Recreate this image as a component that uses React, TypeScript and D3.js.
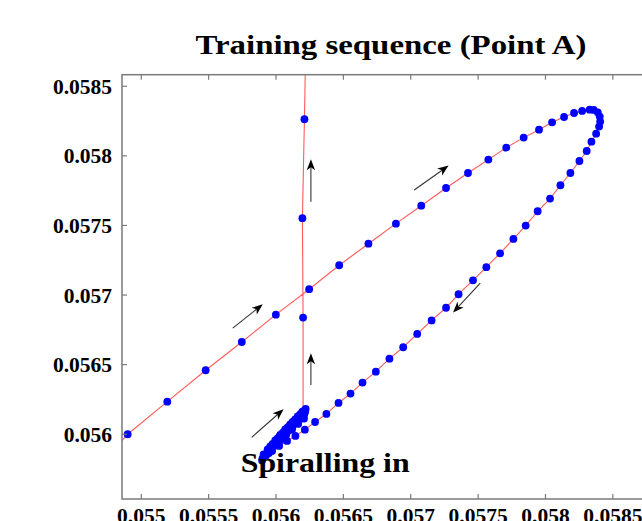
import React from "react";
import * as d3 from "d3";

// Trajectory (x, y) in data units
const trajX = [
  0.054604, 0.054899, 0.055193, 0.055478, 0.055746, 0.055999, 0.056246, 0.056469, 0.056686, 0.05689, 0.057078,
  0.057262, 0.057425, 0.057576, 0.057709, 0.057838, 0.057952, 0.058049, 0.058138, 0.058212, 0.058272, 0.058328,
  0.058358, 0.058388, 0.058403, 0.058406, 0.058398, 0.058376, 0.058341, 0.058306, 0.058252, 0.058185, 0.058111,
  0.058034, 0.057942, 0.057853, 0.057762, 0.057663, 0.057561, 0.057462, 0.057355, 0.057262, 0.057155, 0.057048,
  0.056944, 0.056842, 0.056741, 0.056642, 0.056553, 0.056464, 0.056374, 0.05629, 0.056214, 0.056144,
  // spiralling in
  0.056082, 0.056023, 0.055971, 0.055926, 0.0559, 0.055897, 0.055908, 0.055938, 0.055975, 0.056012, 0.056049,
  0.056086, 0.056123, 0.056161, 0.056194, 0.05622,
  0.056208, 0.056164, 0.056119, 0.056075, 0.05603, 0.055993, 0.055963, 0.055948,
  0.055957, 0.055994, 0.056031, 0.056068, 0.056105, 0.056142, 0.056179, 0.056209,
  0.056209, 0.056179, 0.056149, 0.05612, 0.05609, 0.05606, 0.056031, 0.056001, 0.055971, 0.055949, 0.055934,
  0.055956, 0.055986, 0.056016, 0.056045, 0.056075, 0.056105, 0.056134, 0.056164, 0.056194, 0.056216,
  0.056194, 0.056149, 0.056105, 0.05606, 0.056023, 0.056001,
  0.056023, 0.05606, 0.056097, 0.056134, 0.056172, 0.056209,
  0.056186, 0.056142, 0.056105, 0.056075, 0.056105, 0.056142, 0.056179, 0.056209,
  0.056179, 0.056149, 0.056172, 0.056201, 0.056201,
  // vertical climb
  0.056201, 0.056196, 0.056211, 0.056224,
];
const trajY = [
  0.055686, 0.056, 0.056234, 0.05646, 0.056663, 0.056859, 0.057042, 0.057214, 0.057369, 0.057513, 0.057642,
  0.057769, 0.057877, 0.057973, 0.058059, 0.058131, 0.058188, 0.058241, 0.058279, 0.058308, 0.058323, 0.058332,
  0.05833, 0.058313, 0.058282, 0.058246, 0.05821, 0.058159, 0.058102, 0.058035, 0.057963, 0.057877, 0.057789,
  0.057693, 0.057602, 0.057499, 0.057403, 0.0573, 0.0572, 0.057106, 0.057006, 0.056909, 0.056818, 0.056721,
  0.056625, 0.056543, 0.05645, 0.056371, 0.056292, 0.056225, 0.056146, 0.056088, 0.056033, 0.055988,
  // spiralling in
  0.055952, 0.055916, 0.05588, 0.055848, 0.055826, 0.055812, 0.055855, 0.055891, 0.05593, 0.05597, 0.056009,
  0.056049, 0.056088, 0.056128, 0.05616, 0.056182,
  0.056113, 0.056074, 0.056034, 0.055995, 0.055955, 0.055919, 0.055887, 0.055865,
  0.055913, 0.055956, 0.055995, 0.056035, 0.056071, 0.056107, 0.056142, 0.056168,
  0.056142, 0.05611, 0.056081, 0.056052, 0.056024, 0.055995, 0.055966, 0.055938, 0.055909, 0.055884, 0.055866,
  0.055894, 0.055927, 0.055959, 0.055988, 0.056017, 0.056045, 0.056078, 0.05611, 0.056139, 0.05616,
  0.056131, 0.056092, 0.056052, 0.056013, 0.055977, 0.055952,
  0.055981, 0.056017, 0.056052, 0.056088, 0.056124, 0.056153,
  0.056131, 0.056092, 0.05606, 0.056031, 0.056063, 0.056099, 0.056131, 0.056157,
  0.056128, 0.056103, 0.056128, 0.056153, 0.056164,
  // vertical climb
  0.056838, 0.057552, 0.058263, 0.058976,
];

// Direction arrows: [x1, y1, x2, y2] in data units
const arrowX1 = [0.055679, 0.05582, 0.057026, 0.057516, 0.056259, 0.056259];
const arrowY1 = [0.056762, 0.055978, 0.057755, 0.057085, 0.057671, 0.056354];
const arrowX2 = [0.055902, 0.056056, 0.057281, 0.057314, 0.056259, 0.056259];
const arrowY2 = [0.056934, 0.05618, 0.05793, 0.056874, 0.057976, 0.056582];

const xTicks = [0.055, 0.0555, 0.056, 0.0565, 0.057, 0.0575, 0.058, 0.0585];
const xTickLabels = ["0.055", "0.0555", "0.056", "0.0565", "0.057", "0.0575", "0.058", "0.0585"];
const yTicks = [0.056, 0.0565, 0.057, 0.0575, 0.058, 0.0585];
const yTickLabels = ["0.056", "0.0565", "0.057", "0.0575", "0.058", "0.0585"];

const titleText = "Training sequence (Point A)";
const annotationText = "Spiralling in";

export default function App() {
  const W = 642, H = 521;
  const left = 122, right = 660, top = 74.7, bottom = 499;
  const x = d3.scaleLinear().domain([0.054857, 0.05885]).range([left, right]);
  const y = d3.scaleLinear().domain([0.055535, 0.058583]).range([bottom, top]);
  const pts: [number, number][] = trajX.map((v, i) => [v, trajY[i]]);
  const line = d3.line<[number, number]>().x(d => x(d[0])).y(d => y(d[1]));
  const axisColor = "#7a7a7a";
  const font = "'Liberation Serif', 'Times New Roman', serif";
  const tickLen = 5;

  const arrows = arrowX1.map((_, i) => {
    const x1 = x(arrowX1[i]), y1 = y(arrowY1[i]), x2 = x(arrowX2[i]), y2 = y(arrowY2[i]);
    const ang = Math.atan2(y2 - y1, x2 - x1);
    const hl = 11, hw = 4.2, notch = 3;
    const ux = Math.cos(ang), uy = Math.sin(ang);
    const px = -uy, py = ux;
    const bx = x2 - ux * hl, by = y2 - uy * hl;
    const head = [
      [x2, y2],
      [bx + px * hw, by + py * hw],
      [x2 - ux * (hl - notch), y2 - uy * (hl - notch)],
      [bx - px * hw, by - py * hw],
    ];
    return { x1, y1, x2: x2 - ux * (hl - notch), y2: y2 - uy * (hl - notch), head };
  });

  return (
    <svg width={W} height={H} style={{ position: "absolute", left: 0, top: 0, background: "#fff" }}>
      <defs>
        <clipPath id="plotclip">
          <rect x={left} y={top} width={right - left} height={bottom - top} />
        </clipPath>
      </defs>
      <rect x={0} y={0} width={W} height={H} fill="#fff" />
      <text x={391} y={54} textAnchor="middle" fontFamily={font} fontWeight="bold" fontSize={28}
        textLength={391} lengthAdjust="spacingAndGlyphs" fill="#000">{titleText}</text>

      <g clipPath="url(#plotclip)">
        <path d={line(pts) || ""} fill="none" stroke="#ff5a5a" strokeWidth={1.1} />
        {pts.map((p, i) => (
          <circle key={i} cx={x(p[0])} cy={y(p[1])} r={3.9} fill="#0000ff" />
        ))}
      </g>

      {arrows.map((a, i) => (
        <g key={i}>
          <line x1={a.x1} y1={a.y1} x2={a.x2} y2={a.y2} stroke="#333" strokeWidth={1.1} />
          <polygon points={a.head.map(p => p.join(",")).join(" ")} fill="#000" />
        </g>
      ))}

      <text x={240.7} y={472} fontFamily={font} fontWeight="bold" fontSize={27}
        textLength={169} lengthAdjust="spacingAndGlyphs" fill="#000">{annotationText}</text>

      {/* axes box */}
      <rect x={left} y={top} width={right - left} height={bottom - top} fill="none" stroke={axisColor} strokeWidth={1.5} />
      {xTicks.map((t, i) => (
        <g key={"x" + i}>
          <line x1={x(t)} x2={x(t)} y1={bottom} y2={bottom - tickLen} stroke={axisColor} strokeWidth={1.2} />
          <line x1={x(t)} x2={x(t)} y1={top} y2={top + tickLen} stroke={axisColor} strokeWidth={1.2} />
          <text x={x(t)} y={523} textAnchor="middle" fontFamily={font} fontWeight="bold" fontSize={21.5} fill="#000">
            {xTickLabels[i]}
          </text>
        </g>
      ))}
      {yTicks.map((t, i) => (
        <g key={"y" + i}>
          <line x1={left} x2={left + tickLen} y1={y(t)} y2={y(t)} stroke={axisColor} strokeWidth={1.2} />
          <line x1={right} x2={right - tickLen} y1={y(t)} y2={y(t)} stroke={axisColor} strokeWidth={1.2} />
          <text x={112} y={y(t)} dy="0.35em" textAnchor="end" fontFamily={font} fontWeight="bold" fontSize={21.5} fill="#000">
            {yTickLabels[i]}
          </text>
        </g>
      ))}
    </svg>
  );
}
